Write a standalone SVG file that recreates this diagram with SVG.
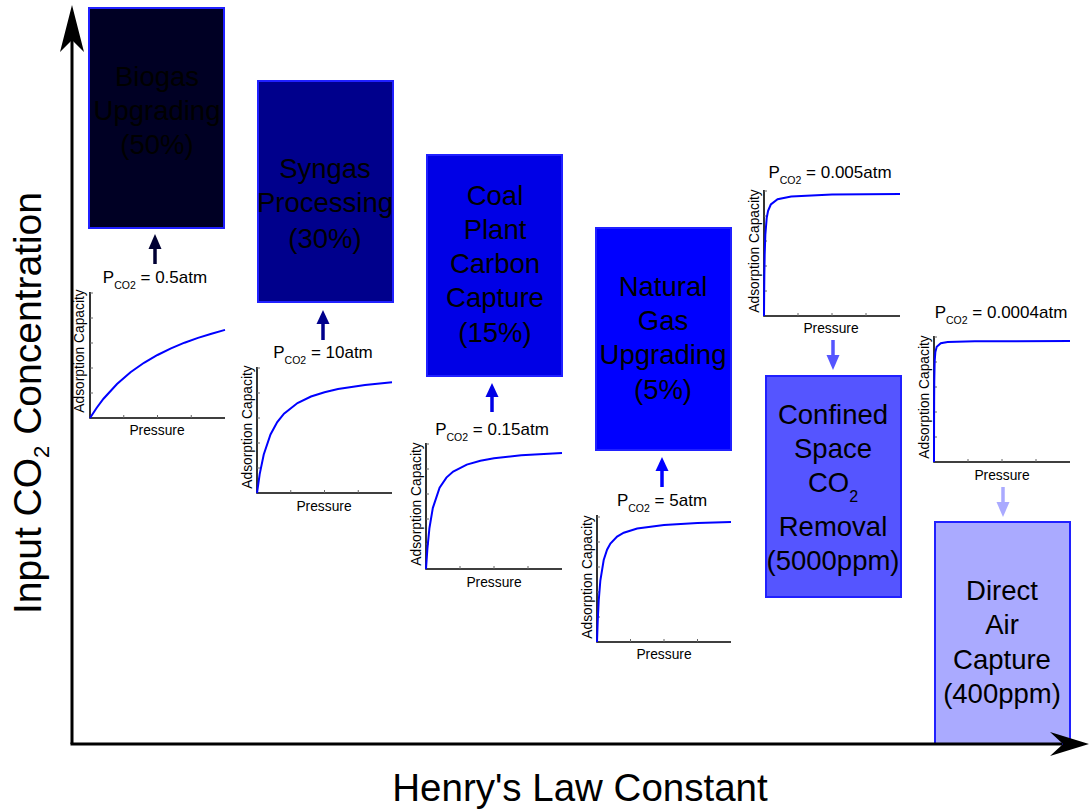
<svg xmlns="http://www.w3.org/2000/svg" width="1089" height="809" viewBox="0 0 1089 809">
<style>
.box{stroke:#2020ff;stroke-width:2}
.bt{font-family:"Liberation Sans",Arial,sans-serif;font-size:27.5px;fill:#000;text-anchor:middle}
.ax{stroke:#000;stroke-width:1.6;fill:none}
.tk{stroke:#666;stroke-width:1;fill:none}
.cv{stroke:#0000ff;stroke-width:2;fill:none}
.al{font-family:"Liberation Sans",Arial,sans-serif;font-size:13.8px;fill:#000;text-anchor:middle}
.pl{font-family:"Liberation Sans",Arial,sans-serif;font-size:17px;fill:#000;text-anchor:middle}
.big{font-family:"Liberation Sans",Arial,sans-serif;fill:#000;text-anchor:middle}
</style>
<rect width="1089" height="809" fill="#fff"/>

<g id="node-biogas">
<rect class="box" x="89" y="8" width="135" height="220" fill="#000024"/>
<text class="bt" x="157" y="86">Biogas</text>
<text class="bt" x="157" y="120">Upgrading</text>
<text class="bt" x="157" y="154">(50%)</text>
</g>
<g id="node-syngas">
<rect class="box" x="258" y="81" width="135" height="221" fill="#00008c"/>
<text class="bt" x="325" y="178">Syngas</text>
<text class="bt" x="325" y="212">Processing</text>
<text class="bt" x="325" y="248">(30%)</text>
</g>
<g id="node-coal">
<rect class="box" x="427" y="155" width="135" height="221" fill="#0000e6"/>
<text class="bt" x="495" y="205">Coal</text>
<text class="bt" x="495" y="239">Plant</text>
<text class="bt" x="495" y="273">Carbon</text>
<text class="bt" x="495" y="307">Capture</text>
<text class="bt" x="495" y="342">(15%)</text>
</g>
<g id="node-natgas">
<rect class="box" x="596" y="228" width="135" height="222" fill="#0000ff"/>
<text class="bt" x="663" y="296">Natural</text>
<text class="bt" x="663" y="330">Gas</text>
<text class="bt" x="663" y="364">Upgrading</text>
<text class="bt" x="663" y="399">(5%)</text>
</g>
<g id="node-confined">
<rect class="box" x="766" y="376" width="135" height="221" fill="#5555ff"/>
<text class="bt" x="833" y="424">Confined</text>
<text class="bt" x="833" y="458">Space</text>
<text class="bt" x="833" y="492">CO<tspan font-size="16" dy="10">2</tspan></text>
<text class="bt" x="833" y="536">Removal</text>
<text class="bt" x="833" y="570">(5000ppm)</text>
</g>
<g id="node-dac">
<rect class="box" x="935" y="522" width="135" height="222" fill="#aaaaff"/>
<text class="bt" x="1002" y="600">Direct</text>
<text class="bt" x="1002" y="634">Air</text>
<text class="bt" x="1002" y="669">Capture</text>
<text class="bt" x="1002" y="703">(400ppm)</text>
</g>

<g id="chart-1">
<path class="ax" d="M90,292 V418 H225"/>
<path class="tk" d="M123.75,418 v-3 M157.5,418 v-3 M191.25,418 v-3 M90,393 h3 M90,368 h3 M90,343 h3 M90,318 h3 M90,293 h3"/>
<polyline class="cv" points="90,418 96.75,407.7 103.5,398.7 117,384 130.5,372.3 144,362.8 157.5,355 171,348.4 184.5,342.7 198,337.9 211.5,333.7 225,329.9"/>
<text class="al" transform="translate(84,351) rotate(-90)" x="0" y="0">Adsorption Capacity</text>
<text class="al" x="157" y="435">Pressure</text>
<text class="pl" x="155" y="283">P<tspan font-size="10.5" dy="6">CO2</tspan><tspan dy="-6"> = 0.5atm</tspan></text>
</g>
<g id="chart-2">
<path class="ax" d="M257,367 V493 H392"/>
<path class="tk" d="M290.75,493 v-3 M324.5,493 v-3 M358.25,493 v-3 M257,468 h3 M257,443 h3 M257,418 h3 M257,393 h3 M257,368 h3"/>
<polyline class="cv" points="257,493 259.7,474.1 263.75,454.5 270.5,434.4 277.25,422 284,413.6 297.5,403 311,396.5 324.5,392.2 338,389 365,384.9 392,382.2"/>
<text class="al" transform="translate(252,427) rotate(-90)" x="0" y="0">Adsorption Capacity</text>
<text class="al" x="324" y="511">Pressure</text>
<text class="pl" x="323" y="358">P<tspan font-size="10.5" dy="6">CO2</tspan><tspan dy="-6"> = 10atm</tspan></text>
</g>
<g id="chart-3">
<path class="ax" d="M426,443 V569 H562"/>
<path class="tk" d="M460,569 v-3 M494,569 v-3 M528,569 v-3 M426,544 h3 M426,519 h3 M426,494 h3 M426,469 h3 M426,444 h3"/>
<polyline class="cv" points="426,569 427.4,548.7 429.4,528.4 432.8,508.1 439.6,487.8 446.4,477.6 453.2,471.6 466.8,464.6 480.4,460.7 494,458.3 521.2,455.3 562,453"/>
<text class="al" transform="translate(421,504) rotate(-90)" x="0" y="0">Adsorption Capacity</text>
<text class="al" x="494" y="587">Pressure</text>
<text class="pl" x="492" y="435">P<tspan font-size="10.5" dy="6">CO2</tspan><tspan dy="-6"> = 0.15atm</tspan></text>
</g>
<g id="chart-4">
<path class="ax" d="M597,515 V642 H731"/>
<path class="tk" d="M630.5,642 v-3 M664,642 v-3 M697.5,642 v-3 M597,617 h3 M597,592 h3 M597,567 h3 M597,542 h3 M597,517 h3"/>
<polyline class="cv" points="597,642 597.7,621.5 598.7,601 600.35,580.5 603.7,560 607.05,549.75 610.4,543.6 617.1,536.6 623.8,532.7 637.2,528.5 664,524.9 697.5,523 731,522"/>
<text class="al" transform="translate(592,577) rotate(-90)" x="0" y="0">Adsorption Capacity</text>
<text class="al" x="664" y="659">Pressure</text>
<text class="pl" x="662" y="506">P<tspan font-size="10.5" dy="6">CO2</tspan><tspan dy="-6"> = 5atm</tspan></text>
</g>
<g id="chart-5">
<path class="ax" d="M764,190 V316 H900"/>
<path class="tk" d="M798,316 v-3 M832,316 v-3 M866,316 v-3 M764,291 h3 M764,266 h3 M764,241 h3 M764,216 h3 M764,191 h3"/>
<polyline class="cv" points="764,316 764.14,295.6 764.34,275.1 764.68,254.7 765.36,234.3 766.72,217.9 768.08,210.9 770.8,204.5 777.6,199.2 791.2,196.4 832,194.6 900,194"/>
<text class="al" transform="translate(759,251) rotate(-90)" x="0" y="0">Adsorption Capacity</text>
<text class="al" x="831" y="333">Pressure</text>
<text class="pl" x="830" y="178">P<tspan font-size="10.5" dy="6">CO2</tspan><tspan dy="-6"> = 0.005atm</tspan></text>
</g>
<g id="chart-6">
<path class="ax" d="M934,336 V462 H1070"/>
<path class="tk" d="M968,462 v-3 M1002,462 v-3 M1036,462 v-3 M934,437 h3 M934,412 h3 M934,387 h3 M934,362 h3 M934,337 h3"/>
<polyline class="cv" points="934,462 934.07,421.6 934.14,401.5 934.27,381.3 934.68,361.1 935.36,351.9 936.72,346.7 940.8,343.3 947.6,342.1 974.8,341.3 1070,341"/>
<text class="al" transform="translate(929,397) rotate(-90)" x="0" y="0">Adsorption Capacity</text>
<text class="al" x="1002" y="480">Pressure</text>
<text class="pl" x="1001" y="318">P<tspan font-size="10.5" dy="6">CO2</tspan><tspan dy="-6"> = 0.0004atm</tspan></text>
</g>

<g id="connectors">
<path d="M155,264 V247" stroke="#000033" stroke-width="3.5"/>
<path d="M155,234 L161.5,249 L148.5,249 Z" fill="#000033"/>
<path d="M323,340 V321" stroke="#00008c" stroke-width="3.5"/>
<path d="M323,310 L329.5,324 L316.5,324 Z" fill="#00008c"/>
<path d="M492,412 V394" stroke="#0000e6" stroke-width="3.5"/>
<path d="M492,383 L498.5,397 L485.5,397 Z" fill="#0000e6"/>
<path d="M662,487 V468" stroke="#0000ff" stroke-width="3.5"/>
<path d="M662,457 L668.5,471 L655.5,471 Z" fill="#0000ff"/>
<path d="M833,340 V358" stroke="#5555ff" stroke-width="3.5"/>
<path d="M833,370 L839.5,355 L826.5,355 Z" fill="#5555ff"/>
<path d="M1003,487 V505" stroke="#aaaaff" stroke-width="3.5"/>
<path d="M1003,517 L1009.5,502 L996.5,502 Z" fill="#aaaaff"/>
</g>

<g id="axes">
<path d="M72,744 V40" stroke="#000" stroke-width="3"/>
<path d="M72,5 L84,52 L72,40 L60,52 Z" fill="#000"/>
<path d="M70.5,744 H1062" stroke="#000" stroke-width="3"/>
<path d="M1089,744 L1050,732 L1063,744 L1050,756 Z" fill="#000"/>
<text class="big" font-size="39" transform="translate(41,403) rotate(-90)">Input CO<tspan font-size="22" dy="8">2</tspan><tspan dy="-8"> Concentration</tspan></text>
<text class="big" font-size="38.5" x="580" y="801">Henry's Law Constant</text>
</g>
</svg>
